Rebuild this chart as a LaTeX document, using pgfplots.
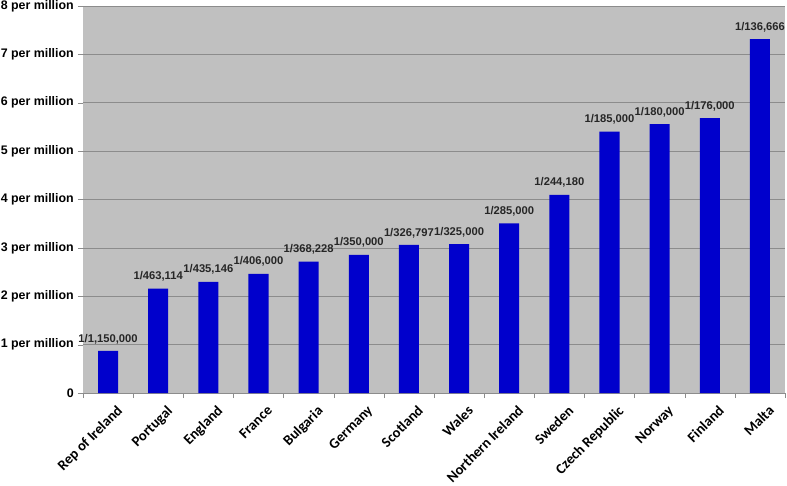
\documentclass[border=0pt]{standalone}
\usepackage{pgfplots}
\pgfplotsset{compat=1.18}
\usepackage{pgfplotstable}
\usepackage{fontspec}
\setmainfont{Liberation Sans}
\newfontfamily\calibri{Carlito}
\definecolor{barblue}{HTML}{0000CC}
\definecolor{plotbg}{HTML}{C0C0C0}
\definecolor{gridc}{HTML}{8C8C8C}
\pgfplotstableread{
x y label
0 0.8696 1/1,150,000
1 2.1593 1/463,114
2 2.2981 1/435,146
3 2.4631 1/406,000
4 2.7157 1/368,228
5 2.8571 1/350,000
6 3.0600 1/326,797
7 3.0769 1/325,000
8 3.5088 1/285,000
9 4.0953 1/244,180
10 5.4054 1/185,000
11 5.5556 1/180,000
12 5.6818 1/176,000
13 7.3171 1/136,666
}\datatable
\begin{document}
\begin{tikzpicture}
\begin{axis}[
  name=ax,
  scale only axis,
  width=702pt, height=387pt,
  xmin=-0.5, xmax=13.5,
  ymin=0, ymax=8,
  axis background/.style={fill=plotbg},
  xtick={0,...,13},
  xticklabels={Rep of Ireland,Portugal,England,France,Bulgaria,Germany,Scotland,Wales,Northern Ireland,Sweden,Czech Republic,Norway,Finland,Malta},
  x tick label style={font=\calibri\bfseries\fontsize{14.5}{16}\selectfont, rotate=45, anchor=north east, inner sep=1pt, yshift=-9pt, xshift=2pt},
  major x tick style={draw=none},
  minor xtick={-0.5,0.5,...,13.5},
  minor x tick style={gridc},
  minor tick length=5pt,
  ytick={0,...,8},
  yticklabels={0,1 per million,2 per million,3 per million,4 per million,5 per million,6 per million,7 per million,8 per million},
  y tick label style={font=\bfseries\fontsize{12.4}{14}\selectfont, inner sep=1pt, xshift=-3pt},
  major y tick style={gridc},
  major tick length=5pt,
  tick align=outside,
  xtick pos=bottom, ytick pos=left,
  ymajorgrids,
  grid style={gridc, line width=0.6pt},
  axis line style={draw=none},
  clip=false,
  nodes near coords,
  point meta=explicit symbolic,
  every node near coord/.style={font=\bfseries\fontsize{11.2}{13}\selectfont, color=black!85, anchor=south, inner sep=1pt, yshift=6pt},
]
\draw[gridc, line width=0.6pt] (axis cs:-0.5,0) -- (axis cs:13.5,0);
\addplot[ybar, bar width=0.4, fill=barblue, draw=none] table[x=x, y=y, meta=label] {\datatable};
\end{axis}
\pgfresetboundingbox
\path ([xshift=-83pt,yshift=-92pt]ax.south west) rectangle ([xshift=2pt,yshift=6pt]ax.north east);
\end{tikzpicture}
\end{document}
